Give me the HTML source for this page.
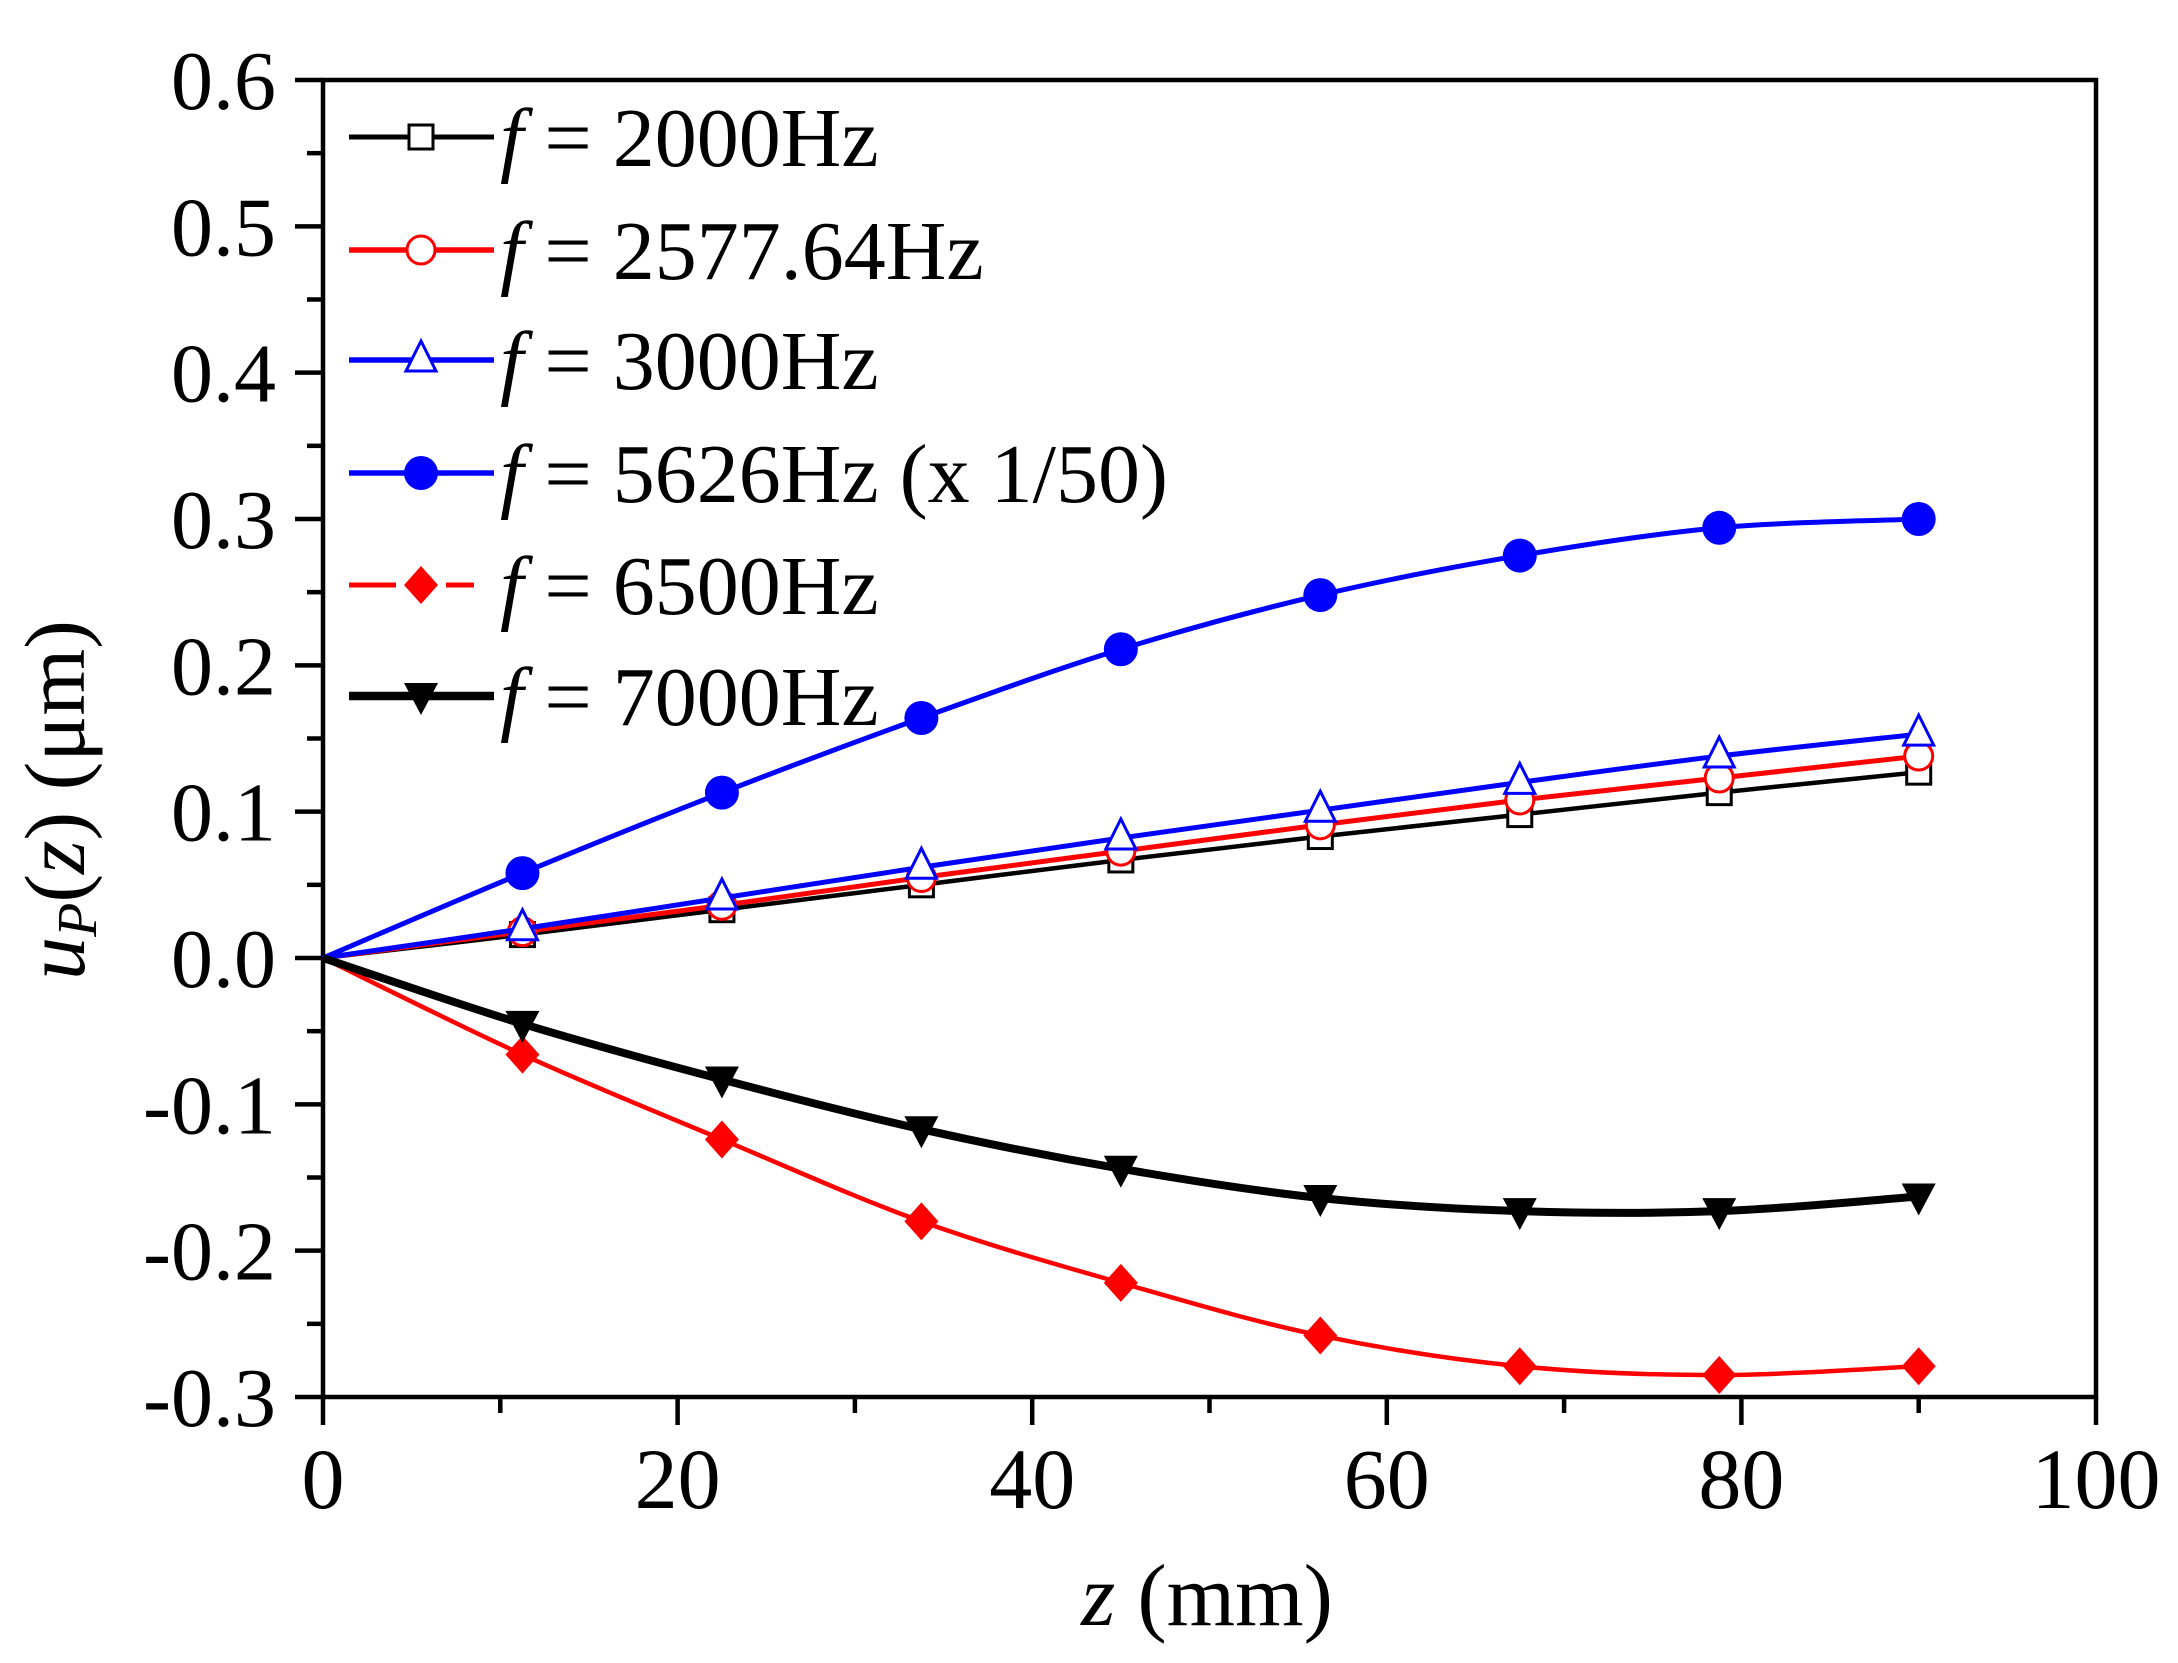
<!DOCTYPE html>
<html><head><meta charset="utf-8">
<style>
html,body{margin:0;padding:0;background:#fff;}
svg{display:block;font-family:"Liberation Serif",serif;}
</style></head>
<body>
<svg id="chart" width="2178" height="1663" viewBox="0 0 2178 1663" xmlns="http://www.w3.org/2000/svg">
<g id="plot"></g>
</svg>
<script>
const zValues = [0, 11.25, 22.5, 33.75, 45, 56.25, 67.5, 78.75, 90];
const s2000 = [0, 0.016, 0.033, 0.050, 0.067, 0.083, 0.098, 0.113, 0.127];
const s2577 = [0, 0.018, 0.036, 0.055, 0.073, 0.091, 0.108, 0.123, 0.138];
const s3000 = [0, 0.020, 0.041, 0.062, 0.082, 0.101, 0.120, 0.138, 0.153];
const s5626 = [0, 0.058, 0.113, 0.164, 0.211, 0.248, 0.275, 0.294, 0.300];
const s6500 = [0, -0.066, -0.124, -0.180, -0.222, -0.258, -0.279, -0.285, -0.279];
const s7000 = [0, -0.045, -0.083, -0.117, -0.144, -0.164, -0.173, -0.173, -0.163];
const xTicks = [0, 20, 40, 60, 80, 100];
const yTicks = [-0.3, -0.2, -0.1, 0.0, 0.1, 0.2, 0.3, 0.4, 0.5, 0.6];
const legendLabels = ["2000Hz", "2577.64Hz", "3000Hz", "5626Hz (x 1/50)", "6500Hz", "7000Hz"];

const NS = "http://www.w3.org/2000/svg";
const X0 = 323, X1 = 2096, Y0 = 80, Y1 = 1397;
const xs = v => X0 + (v - 0) / 100 * (X1 - X0);
const ys = v => Y1 - (v + 0.3) / 0.9 * (Y1 - Y0);
const g = document.getElementById('plot');
function mk(tag, attrs, parent) {
  const e = document.createElementNS(NS, tag);
  for (const k in attrs) e.setAttribute(k, attrs[k]);
  (parent || g).appendChild(e);
  return e;
}
function span(parent, text, attrs) {
  const t = document.createElementNS(NS, 'tspan');
  for (const k in (attrs || {})) t.setAttribute(k, attrs[k]);
  t.textContent = text;
  parent.appendChild(t);
  return t;
}
function smoothPath(pts) {
  let d = `M${pts[0][0]},${pts[0][1]}`;
  for (let i = 0; i < pts.length - 1; i++) {
    const p0 = pts[i - 1] || pts[i], p1 = pts[i], p2 = pts[i + 1], p3 = pts[i + 2] || p2;
    const c1 = [p1[0] + (p2[0] - p0[0]) / 6, p1[1] + (p2[1] - p0[1]) / 6];
    const c2 = [p2[0] - (p3[0] - p1[0]) / 6, p2[1] - (p3[1] - p1[1]) / 6];
    d += ` C${c1[0]},${c1[1]} ${c2[0]},${c2[1]} ${p2[0]},${p2[1]}`;
  }
  return d;
}
function marker(type, cx, cy, color, parent) {
  let e;
  if (type === 'square') e = mk('rect', {x: cx - 12, y: cy - 12, width: 24, height: 24, fill: '#fff', stroke: color, 'stroke-width': 3}, parent);
  else if (type === 'ocircle') e = mk('circle', {cx, cy, r: 14, fill: '#fff', stroke: color, 'stroke-width': 3}, parent);
  else if (type === 'otri') e = mk('polygon', {points: `${cx},${cy - 19} ${cx - 15},${cy + 11} ${cx + 15},${cy + 11}`, fill: '#fff', stroke: color, 'stroke-width': 3}, parent);
  else if (type === 'fcircle') e = mk('ellipse', {cx, cy, rx: 17, ry: 17, fill: color}, parent);
  else if (type === 'diamond') e = mk('polygon', {points: `${cx},${cy - 19} ${cx + 17},${cy} ${cx},${cy + 19} ${cx - 17},${cy}`, fill: color}, parent);
  else e = mk('polygon', {points: `${cx - 17},${cy - 13} ${cx + 17},${cy - 13} ${cx},${cy + 19}`, fill: color}, parent);
  return e;
}
const series = [
  {vals: s2000, color: '#000', w: 4.5, m: 'square'},
  {vals: s2577, color: '#ff0000', w: 5, m: 'ocircle'},
  {vals: s3000, color: '#0000ff', w: 5, m: 'otri'},
  {vals: s5626, color: '#0000ff', w: 5, m: 'fcircle'},
  {vals: s6500, color: '#ff0000', w: 4.5, m: 'diamond'},
  {vals: s7000, color: '#000', w: 8, m: 'dtri'}
];
const frame = mk('rect', {x: X0, y: Y0, width: X1 - X0, height: Y1 - Y0, fill: 'none', stroke: '#000', 'stroke-width': 4.5});


for (let i = 0; i < yTicks.length; i++) {
  const y = ys(yTicks[i]);
  const t = mk('line', {x1: X0 - 28, x2: X0, y1: y, y2: y, stroke: '#000', 'stroke-width': 4.5});
  
  
  if (i < yTicks.length - 1) {
    const ym = ys(yTicks[i] + 0.05);
    mk('line', {x1: X0 - 16, x2: X0, y1: ym, y2: ym, stroke: '#000', 'stroke-width': 4.5});
  }
  const lb = mk('text', {x: 276, y: y + 29, 'text-anchor': 'end', 'font-size': 84, fill: '#000'});
  lb.textContent = yTicks[i].toFixed(1);
  
  
}
for (let i = 0; i < xTicks.length; i++) {
  const x = xs(xTicks[i]);
  const t = mk('line', {x1: x, x2: x, y1: Y1, y2: Y1 + 28, stroke: '#000', 'stroke-width': 4.5});
  
  
  if (i < xTicks.length - 1) {
    const xm = xs(xTicks[i] + 10);
    mk('line', {x1: xm, x2: xm, y1: Y1, y2: Y1 + 16, stroke: '#000', 'stroke-width': 4.5});
  }
  const lb = mk('text', {x: x, y: 1508, 'text-anchor': 'middle', 'font-size': 86, fill: '#000'});
  lb.textContent = xTicks[i];
  
  
}
series.forEach((s, si) => {
  const pts = zValues.map((z, i) => [xs(z), ys(s.vals[i])]);
  const p = mk('path', {d: smoothPath(pts), fill: 'none', stroke: s.color, 'stroke-width': s.w});
  
  
  pts.forEach((pt, i) => {
    if (i === 0) return;
    const m = marker(s.m, pt[0], pt[1], s.color);
    
    
  });
});
const legY = [137, 250, 360, 473, 585, 696];
series.forEach((s, i) => {
  const y = legY[i];
  const lg = mk('g', {});
  
  
  if (i === 4) {
    mk('line', {x1: 349, x2: 396, y1: y, y2: y, stroke: s.color, 'stroke-width': 5}, lg);
    mk('line', {x1: 446, x2: 474, y1: y, y2: y, stroke: s.color, 'stroke-width': 5}, lg);
  } else {
    mk('line', {x1: 349, x2: 494, y1: y, y2: y, stroke: s.color, 'stroke-width': s.w + 0.5}, lg);
  }
  marker(s.m, 421, y, s.color, lg);
  const t = mk('text', {x: 500, y: y + 29, 'font-size': 84, fill: '#000'}, lg);
  span(t, 'f', {'font-style': 'italic'});
  span(t, ' = ' + legendLabels[i]);
});
const xt = mk('text', {x: 1207, y: 1625, 'text-anchor': 'middle', 'font-size': 88, fill: '#000'});


span(xt, 'z', {'font-style': 'italic'});
span(xt, ' (mm)');
const yt = mk('text', {x: 0, y: 0, 'text-anchor': 'middle', 'font-size': 86, fill: '#000', transform: 'translate(84,800) rotate(-90)'});


span(yt, 'u', {'font-style': 'italic'});
span(yt, 'P', {'font-style': 'italic', 'font-size': 56, dy: 12});
span(yt, '(', {dy: -12});
span(yt, 'z', {'font-style': 'italic'});
span(yt, ') (μm)');
</script>
</body></html>
